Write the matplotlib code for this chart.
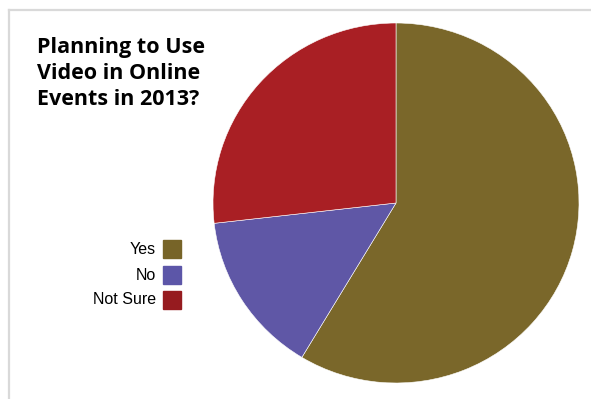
import matplotlib
matplotlib.use("Agg")
import matplotlib.pyplot as plt
from matplotlib.lines import Line2D
from matplotlib.patches import Rectangle

labels = ["Yes", "No", "Not Sure"]
values = [58.6, 14.6, 26.8]
colors = ["#7A672A", "#5F57A6", "#A91F24"]
legend_colors = ["#776428", "#5C56A8", "#961B1F"]
title = "Planning to Use\nVideo in Online\nEvents in 2013?"

W, H = 591, 399
fig = plt.figure(figsize=(W / 100, H / 100), dpi=100)
fig.patch.set_facecolor("white")

# border lines
fig.add_artist(Line2D([9 / W, 1], [1 - 10 / H, 1 - 10 / H], color="#D9D9D9", lw=1.6, transform=fig.transFigure))
fig.add_artist(Line2D([9 / W, 9 / W], [0, 1 - 10 / H], color="#D9D9D9", lw=1.6, transform=fig.transFigure))

cx, cy, rx, ry = 396, 203, 183, 180
ax = fig.add_axes([(cx - rx) / W, (H - cy - ry) / H, 2 * rx / W, 2 * ry / H])
ax.pie(values, colors=colors, startangle=90, counterclock=False, radius=1,
       wedgeprops=dict(edgecolor="white", linewidth=0.4))
ax.set_aspect("auto")
ax.set_xlim(-1, 1)
ax.set_ylim(-1, 1)
ax.axis("off")

fig.text(37 / W, 1 - 37 / H, title, ha="left", va="top", fontsize=15.5,
         fontweight="bold", family="Open Sans", linespacing=1.32, color="black")

rows_y = [249, 275, 300]
for lab, c, y in zip(labels, legend_colors, rows_y):
    fig.add_artist(Rectangle((163 / W, 1 - (y + 9) / H), 18 / W, 18 / H, color=c,
                             transform=fig.transFigure))
    fig.text(156 / W, 1 - y / H, lab, ha="right", va="center", fontsize=11.5,
             family="Liberation Sans", color="black")

fig.savefig("out.png", dpi=100)
